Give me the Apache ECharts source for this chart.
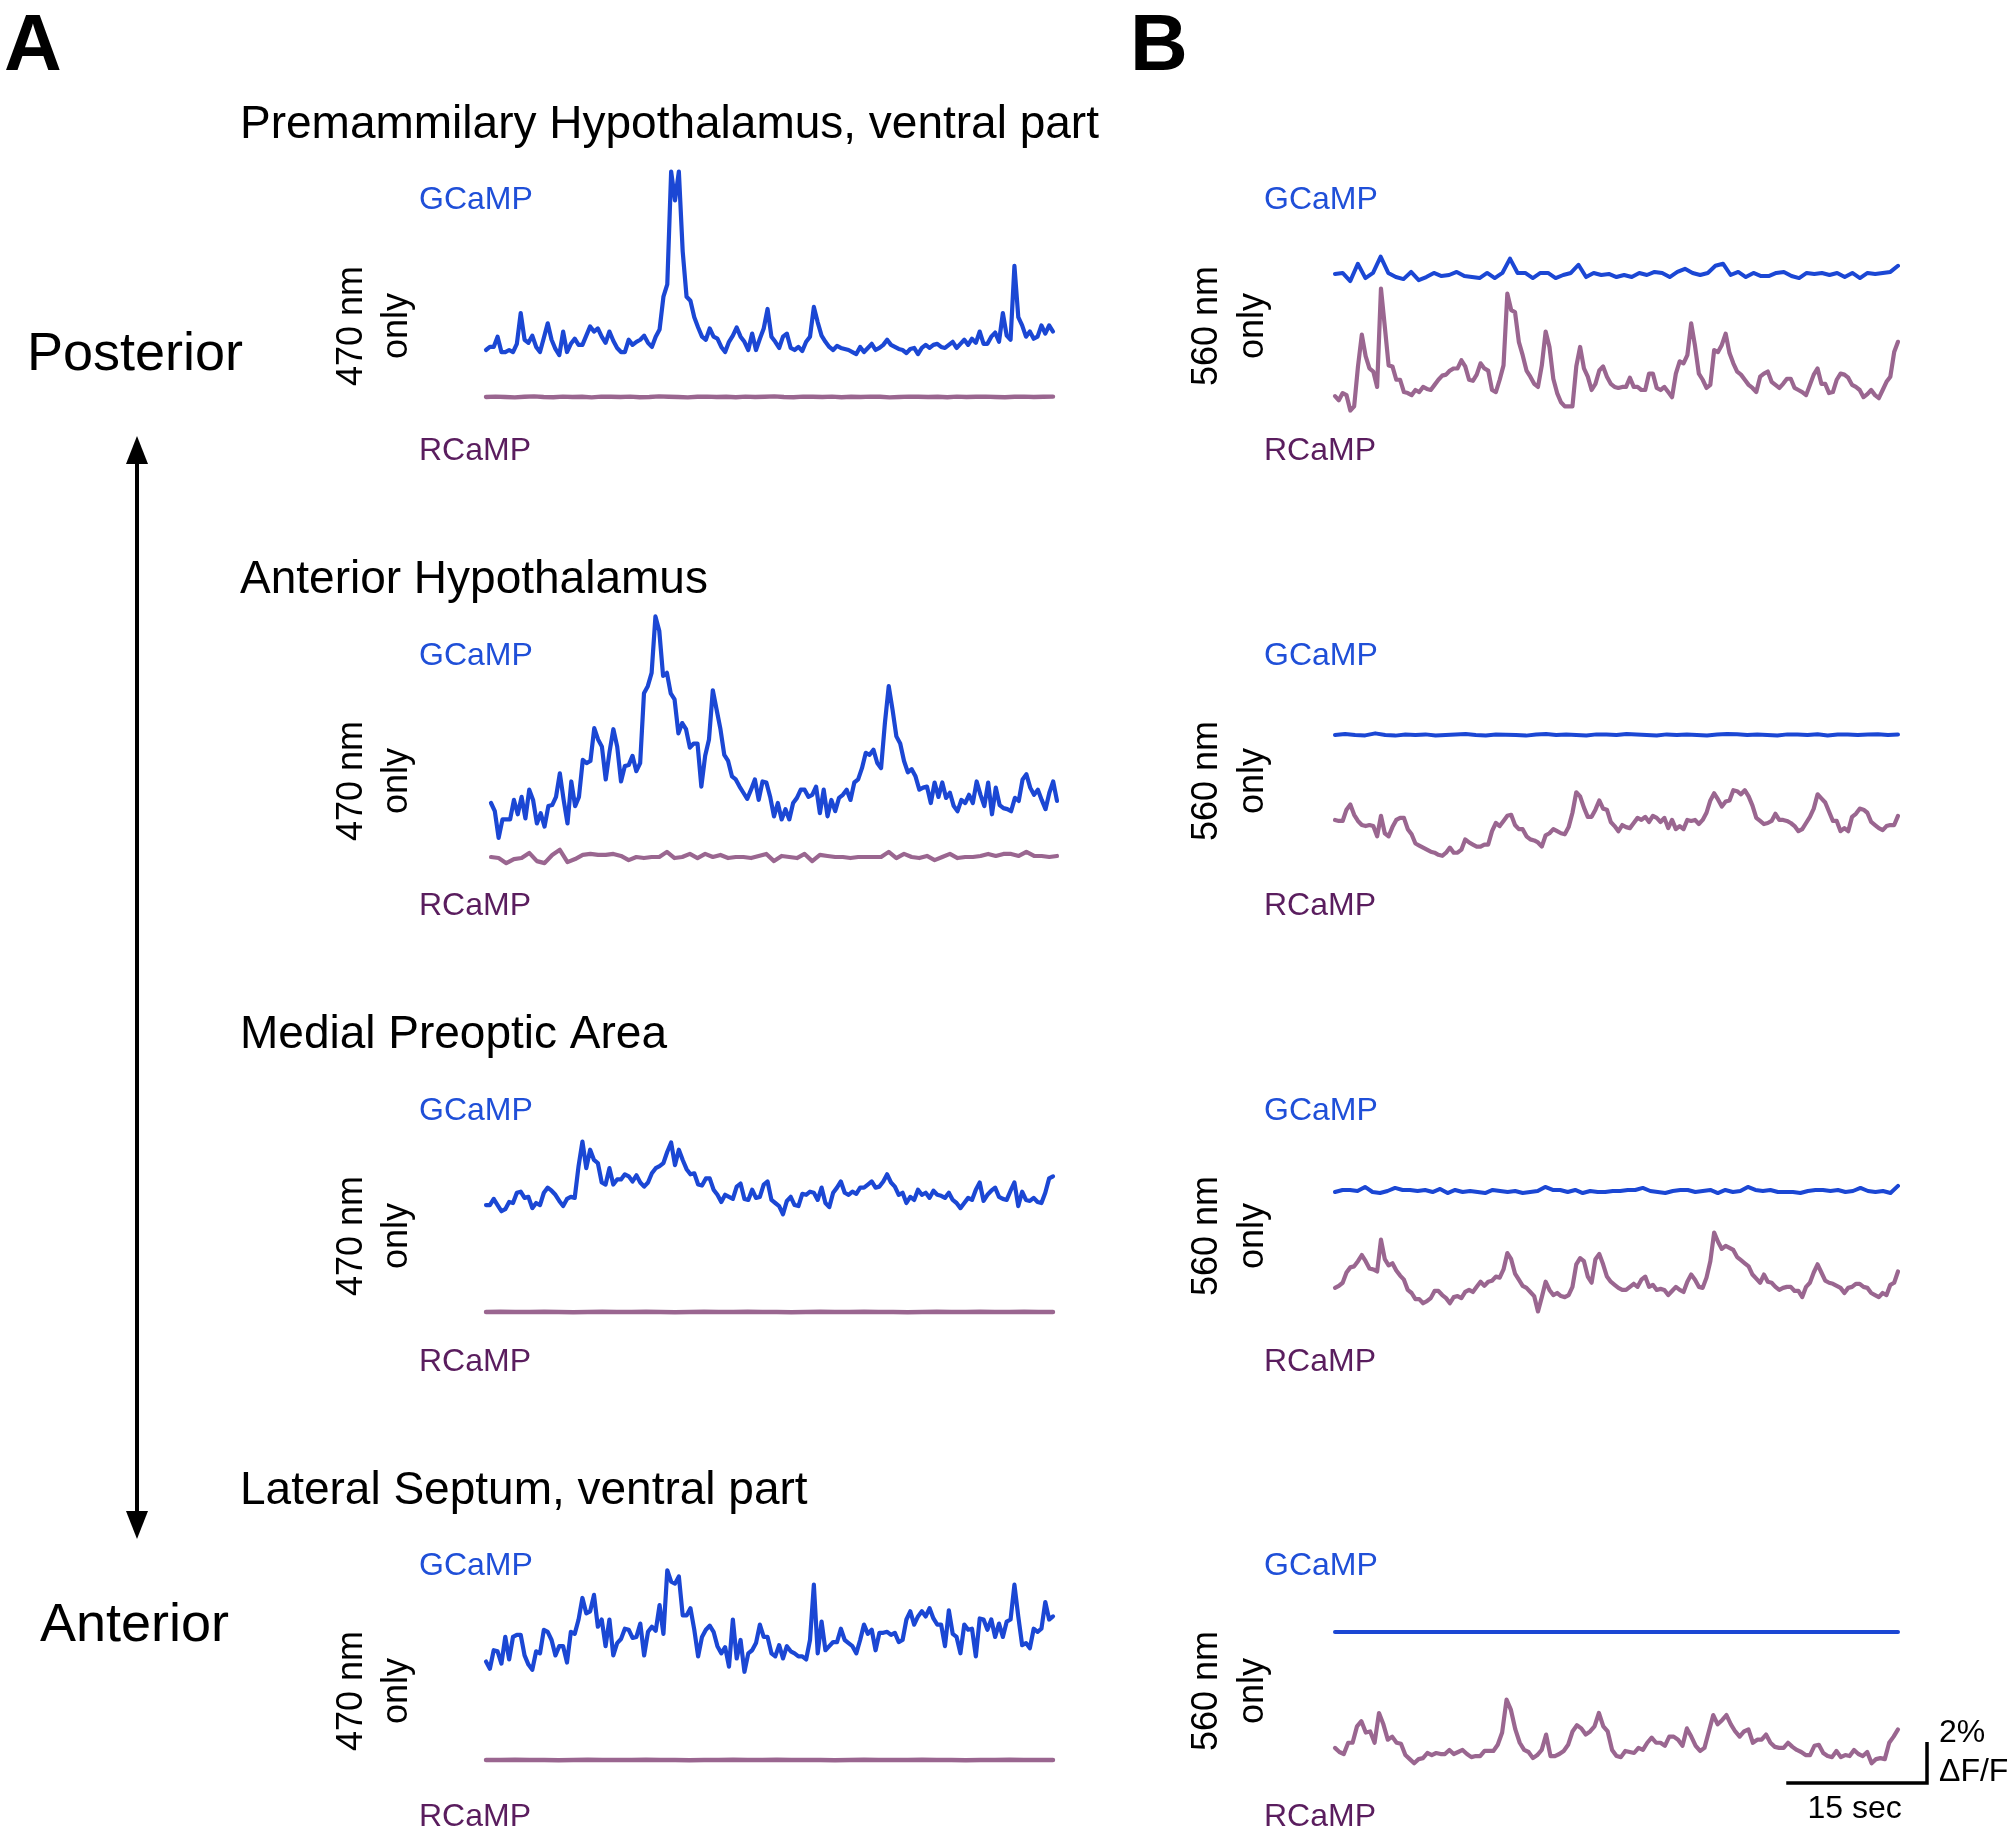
<!DOCTYPE html>
<html>
<head>
<meta charset="utf-8">
<script src="https://cdn.jsdelivr.net/npm/echarts@6/dist/echarts.min.js"></script>
<style>
  html, body { margin: 0; padding: 0; background: #fff; }
  #chart { width: 2013px; height: 1831px; }
</style>
</head>
<body>
<div id="chart"></div>
<script>
// region names, one row each (posterior -> anterior)
const regions = [
  "Premammilary Hypothalamus, ventral part",
  "Anterior Hypothalamus",
  "Medial Preoptic Area",
  "Lateral Septum, ventral part",
];

// ΔF/F (%) traces. column A = 470 nm only, column B = 560 nm only
const pmvGcampA = [0.0,0.15,0.15,0.65,-0.1,-0.1,0.0,-0.1,0.3,1.8,0.5,0.35,0.7,0.15,-0.1,0.6,1.3,0.5,0.05,-0.25,0.9,-0.1,0.3,0.55,0.25,0.25,0.7,1.15,0.9,1.05,0.65,0.35,0.9,0.45,0.1,-0.1,-0.1,0.5,0.25,0.4,0.5,0.7,0.35,0.15,0.65,1.0,2.6,3.2,8.7,7.3,8.7,4.8,2.6,2.4,1.6,1.1,0.65,0.5,1.05,0.65,0.55,0.15,-0.1,0.4,0.7,1.1,0.65,0.4,0.0,0.8,0.0,0.55,1.05,2.0,0.65,0.4,0.1,0.65,0.8,0.1,0.0,0.15,-0.05,0.4,0.65,2.1,1.35,0.7,0.4,0.15,0.0,0.2,0.1,0.05,0.0,-0.1,-0.2,0.15,-0.1,0.1,0.3,0.0,0.1,0.25,0.5,0.25,0.15,0.05,0.0,-0.15,0.05,0.1,-0.2,0.1,0.25,0.1,0.25,0.3,0.15,0.1,0.25,0.4,0.1,0.3,0.5,0.25,0.55,0.35,0.9,0.3,0.3,0.65,0.85,0.4,1.8,0.7,0.5,4.1,1.6,1.2,0.65,0.9,0.55,0.65,1.2,0.8,1.2,0.9];
const pmvRcampA = [0,0.02,0,-0.02,0.01,0.03,0,-0.01,0.02,0,0.01,-0.02,0.02,0.01,0,0.02,-0.01,0,0.03,0.01,0,-0.02,0.01,0.02,0,0.01,-0.01,0.02,0,0.01,0.03,0,-0.01,0.02,0.01,0,0.02,-0.01,0.01,0,0.02,0.01,-0.02,0,0.02,0.01,0,0.01,-0.01,0.02,0,0.01,0.02,0,-0.01,0.01,0.02,0,0.01,0.02];
const ahGcampA = [0.0,-0.4,-1.7,-0.8,-0.8,-0.8,0.15,-0.55,0.3,-0.75,0.65,0.15,-1.0,-0.5,-1.15,-0.15,-0.1,0.3,1.45,0.15,-1.0,1.05,-0.15,0.3,2.1,1.95,2.05,3.65,3.1,2.75,1.15,2.5,3.6,2.75,1.05,1.8,1.85,2.3,1.55,1.95,5.35,5.7,6.35,9.1,8.4,6.2,6.35,5.35,5.05,3.4,3.9,3.6,2.7,2.9,2.9,0.8,2.3,3.1,5.5,4.55,3.6,2.35,2.05,1.3,1.15,0.8,0.5,0.2,0.65,1.15,0.15,1.05,1.0,0.3,-0.65,0.0,-0.8,-0.3,-0.8,0.0,0.25,0.65,0.65,0.3,0.4,0.8,-0.5,0.65,-0.65,0.15,-0.4,0.25,0.4,0.65,0.15,1.0,1.15,1.7,2.45,2.35,2.6,1.95,1.7,3.9,5.7,4.55,3.25,2.9,2.05,1.5,1.65,1.3,0.65,0.75,0.8,0.0,1.0,0.3,1.0,0.25,0.5,-0.15,-0.4,0.15,0.0,0.4,0.0,1.05,0.4,-0.15,1.0,-0.55,0.75,-0.1,-0.25,-0.3,-0.4,0.25,0.1,1.15,1.4,0.75,0.4,0.65,0.15,-0.3,0.5,1.05,0.1];
const ahRcampA = [0.0,-0.05,-0.3,-0.1,-0.05,0.2,-0.2,-0.3,0.1,0.35,-0.25,-0.1,0.1,0.15,0.1,0.1,0.15,0.05,-0.15,0.0,-0.05,0.0,0.0,0.25,-0.05,0.0,0.15,-0.05,0.15,0.0,0.1,-0.05,0.0,0.0,-0.05,0.05,0.15,-0.2,0.05,0.0,-0.05,0.15,-0.2,0.1,0.05,0.0,0.0,-0.05,0.0,0.0,0.0,0.0,0.25,-0.05,0.15,0.0,-0.05,0.05,-0.15,0.0,0.15,-0.05,0.0,0.0,0.05,0.15,0.05,0.15,0.15,0.05,0.25,0.05,0.05,0.0,0.05];
const mpoaGcampA = [-0.1,-0.1,0.2,-0.1,-0.4,-0.3,0.05,0.0,0.5,0.55,0.25,0.3,-0.25,0.0,-0.1,0.5,0.75,0.6,0.4,0.1,-0.15,0.2,0.3,0.25,1.8,3.0,1.7,2.6,2.1,1.95,1.0,0.9,1.7,0.9,1.15,1.15,1.4,1.3,1.05,1.35,1.0,0.8,1.0,1.45,1.7,1.8,1.95,2.5,2.95,1.85,2.6,2.1,1.65,1.4,1.45,0.9,0.85,1.2,1.2,0.65,0.4,0.05,0.4,0.3,0.2,0.8,0.95,0.2,0.15,0.65,0.25,0.3,0.9,1.05,0.15,0.0,-0.15,-0.55,0.1,0.3,-0.1,-0.15,0.45,0.4,0.55,0.5,0.15,0.75,0.0,-0.2,0.5,0.75,1.05,0.5,0.4,0.55,0.45,0.75,0.75,0.9,1.05,0.75,0.8,1.05,1.4,1.0,0.8,0.4,0.5,0.0,0.3,0.15,0.65,0.4,0.5,0.25,0.6,0.4,0.35,0.25,0.5,0.15,0.0,-0.25,0.0,0.25,0.15,0.65,1.0,0.1,0.4,0.6,0.75,0.3,0.2,0.15,0.6,1.0,-0.15,0.55,0.15,0.1,0.25,0.05,0.0,0.5,1.2,1.3];
const mpoaRcampA = [0,0.01,0,0,0.01,0,-0.01,0,0.01,0,0,0.01,0,-0.01,0,0.01,0,0,0.01,0,0,-0.01,0,0.01,0,0,0.01,0,0,-0.01,0,0.01,0,0,0.01,0,0,0.01,0,0];
const lsvGcampA = [-1.05,-1.4,-0.5,-0.55,-1.15,0.15,-0.95,0.15,0.25,0.25,-0.75,-1.2,-1.45,-0.55,-0.65,0.5,0.4,0.0,-0.75,-0.3,-0.3,-1.1,0.4,0.3,1.0,2.05,1.3,1.4,2.2,0.65,1.0,-0.3,1.0,-0.75,-0.15,0.05,0.55,0.5,0.1,0.15,0.8,-0.75,0.4,0.65,0.45,1.7,0.3,3.4,2.85,2.75,3.1,1.2,1.2,1.55,0.5,-0.8,0.15,0.5,0.7,0.4,-0.3,-0.65,-0.35,-1.3,1.0,-0.9,0.0,-1.55,-0.65,-0.5,-0.15,0.75,0.15,0.15,-0.65,-0.8,-0.25,-0.9,-0.3,-0.55,-0.65,-0.8,-0.8,-0.95,0.0,2.7,-0.65,0.9,-0.5,-0.3,-0.1,-0.1,0.55,0.0,-0.15,-0.3,-0.65,0.0,0.75,0.3,0.5,-0.5,0.35,0.35,0.4,0.25,0.35,-0.1,0.0,1.0,1.4,0.75,1.15,1.4,1.15,1.55,1.05,0.75,0.75,-0.3,1.45,0.3,0.15,-0.65,0.75,0.5,0.55,-0.8,1.05,1.0,0.5,1.0,0.15,0.8,0.15,0.9,1.0,2.7,1.15,-0.25,-0.15,-0.4,0.55,0.4,0.55,1.85,1.0,1.15];
const lsvRcampA = [0,0,0.01,0,0,-0.01,0,0.01,0,0,0,0.01,0,0,-0.01,0,0,0.01,0,0,0.01,0,0,0,-0.01,0,0.01,0,0,0,0.01,0,0,-0.01,0,0,0.01,0,0,0];

const pmvGcampB = [0.05,0.1,-0.3,0.55,-0.15,0.1,0.9,0.1,-0.1,-0.2,0.15,-0.25,-0.1,0.1,-0.05,0.0,0.15,-0.05,-0.1,-0.15,0.1,-0.15,0.1,0.8,0.1,0.1,-0.15,0.1,0.1,-0.15,0.0,0.1,0.5,-0.1,0.1,0.0,0.05,-0.1,0.0,-0.1,0.1,0.0,0.15,0.1,-0.1,0.15,0.3,0.1,0.0,0.1,0.45,0.55,0.0,0.15,-0.1,0.1,-0.05,-0.05,0.1,0.15,-0.05,-0.15,0.1,0.05,0.1,0.0,0.1,-0.1,0.1,-0.15,0.1,0.05,0.1,0.15,0.45];
const pmvRcampB = [-0.3,-0.5,-0.15,-0.25,-1.0,-0.8,1.15,2.7,1.65,1.05,0.9,0.15,4.95,3.1,1.2,1.15,0.5,0.5,-0.1,-0.15,-0.25,0.0,-0.1,0.15,0.05,0.0,0.25,0.5,0.7,0.75,0.95,1.05,1.05,1.45,1.15,0.5,0.45,0.75,1.3,1.05,0.95,0.0,-0.1,0.5,1.2,4.7,3.9,3.8,2.35,1.7,0.95,0.65,0.3,0.15,1.2,2.85,2.1,0.55,-0.15,-0.6,-0.8,-0.8,-0.8,1.15,2.1,1.05,0.65,0.0,0.3,0.95,1.15,0.65,0.3,0.15,0.1,0.15,0.15,0.6,0.15,0.15,0.0,0.0,0.8,0.8,0.1,0.0,0.15,-0.1,-0.35,0.8,1.4,1.3,1.7,3.25,2.15,0.8,0.5,0.1,0.25,1.95,1.85,2.2,2.75,1.8,1.3,0.9,0.75,0.5,0.25,0.1,-0.1,0.65,0.8,0.9,0.4,0.25,0.1,0.3,0.55,0.55,0.1,0.0,-0.1,-0.25,0.25,0.75,1.05,0.3,0.3,-0.15,-0.1,0.5,0.8,0.75,0.6,0.25,0.15,0.0,-0.35,-0.2,0.0,-0.25,-0.4,0.0,0.4,0.65,1.85,2.35];
const ahGcampB = [0,0.05,0,-0.02,0.08,0,-0.03,0.02,0,0.03,-0.02,0,0.02,0.05,0,-0.02,0.02,0.01,0,-0.03,0.02,0.05,0,0.02,0,-0.02,0.03,0.02,0,0.05,0.02,0,-0.02,0.03,0,0.02,0,-0.02,0.02,0.05,0.04,0,0.02,0,-0.02,0.03,0.02,0,0.04,-0.02,0.02,0.03,0,0.02,0.04,0,0.02];
const ahRcampB = [0.15,0.1,0.1,0.65,0.9,0.4,0.1,-0.1,-0.15,-0.1,-0.15,-0.65,0.35,-0.5,-0.65,-0.2,0.15,0.25,0.25,-0.3,-0.55,-1.0,-1.1,-1.2,-1.3,-1.4,-1.45,-1.55,-1.6,-1.45,-1.2,-1.45,-1.45,-1.3,-0.8,-0.95,-1.05,-1.15,-1.15,-1.05,-1.05,-0.4,0.0,-0.15,0.1,0.35,0.4,-0.1,-0.3,-0.3,-0.65,-0.8,-0.85,-0.95,-1.15,-0.6,-0.5,-0.3,-0.4,-0.5,-0.55,-0.2,0.5,1.5,1.3,0.75,0.3,0.3,0.65,1.1,0.7,0.65,0.05,-0.15,-0.4,-0.1,-0.2,-0.25,0.0,0.25,0.15,0.3,0.05,0.35,0.25,0.05,0.25,-0.25,0.15,-0.3,-0.15,-0.3,0.15,0.1,0.15,-0.05,0.15,0.5,1.1,1.45,1.15,0.8,1.05,1.1,1.6,1.55,1.4,1.6,1.3,0.85,0.25,0.1,-0.05,0.0,0.1,0.45,0.15,0.15,0.1,0.0,-0.15,-0.4,-0.3,0.0,0.3,0.7,1.4,1.2,1.0,0.55,0.1,0.1,-0.4,-0.25,-0.4,0.3,0.45,0.7,0.65,0.5,0.05,-0.1,-0.25,-0.35,-0.15,-0.1,-0.1,0.35];
const mpoaGcampB = [-0.05,0.05,0.05,0.0,0.2,-0.05,-0.1,0.0,0.15,0.05,0.05,0.0,0.05,-0.05,0.1,-0.1,0.05,-0.05,0.0,-0.05,-0.1,0.05,0.0,-0.05,0.0,-0.1,-0.05,0.0,0.2,0.05,0.05,-0.05,0.05,-0.1,0.0,-0.05,-0.05,0.0,0.0,0.05,0.05,0.15,0.0,-0.05,-0.1,0.0,0.05,0.05,-0.05,0.0,0.05,-0.1,0.05,-0.05,0.0,0.2,0.05,0.0,0.05,-0.05,-0.05,-0.05,-0.1,0.0,0.05,0.05,0.0,0.05,-0.05,0.0,0.15,0.0,-0.05,0.0,-0.1,0.25];
const mpoaRcampB = [0.25,0.35,0.5,1.0,1.25,1.3,1.55,1.85,1.55,1.2,1.15,1.05,2.6,1.65,1.35,1.45,1.1,0.85,0.65,0.15,0.0,-0.3,-0.3,-0.5,-0.4,-0.25,0.1,0.1,-0.1,-0.25,-0.5,-0.2,-0.15,-0.25,0.05,0.15,0.05,0.3,0.55,0.35,0.55,0.6,0.8,0.75,1.15,1.95,1.65,0.95,0.65,0.35,0.25,0.05,-0.15,-0.9,-0.2,0.55,0.15,-0.1,0.0,-0.15,-0.2,-0.1,0.3,1.4,1.7,1.55,0.8,0.5,1.65,1.9,1.4,0.8,0.55,0.4,0.25,0.15,0.15,0.3,0.45,0.3,0.65,0.8,0.3,0.4,0.15,0.2,0.15,-0.1,0.1,0.3,0.15,0.05,0.55,0.9,0.65,0.3,0.25,0.75,1.55,2.95,2.5,2.15,2.3,2.2,2.1,1.75,1.6,1.45,1.3,0.9,0.7,0.5,0.9,0.55,0.5,0.3,0.15,0.25,0.3,0.3,0.1,0.1,-0.2,0.3,0.5,1.0,1.4,1.0,0.6,0.5,0.45,0.35,0.25,0.0,0.25,0.3,0.45,0.45,0.3,0.25,0.0,-0.1,-0.2,0.0,-0.1,0.4,0.5,1.05];
const lsvGcampB = [0,0,0,0,0,0,0,0,0,0,0,0,0,0,0,0,0,0,0,0];
const lsvRcampB = [0.25,0.05,-0.05,0.5,0.5,1.3,1.55,1.0,1.05,0.5,1.95,1.4,0.65,0.8,0.5,0.45,-0.1,-0.3,-0.5,-0.3,-0.25,0.0,-0.1,0.0,-0.05,-0.05,0.15,-0.05,0.05,0.15,-0.05,-0.2,-0.15,-0.15,0.1,0.1,0.1,0.4,1.0,2.6,2.1,1.15,0.5,0.15,0.05,-0.25,-0.1,0.15,0.9,-0.15,-0.15,-0.05,0.1,0.4,1.05,1.35,1.2,0.9,1.05,1.3,1.95,1.3,1.05,0.15,-0.15,-0.2,0.1,0.05,0.0,0.25,0.15,0.5,0.75,0.5,0.5,0.35,0.8,0.8,0.65,0.35,1.2,0.8,0.35,0.1,0.25,1.05,1.85,1.4,1.6,1.85,1.4,1.05,0.8,1.05,1.15,0.5,0.65,0.65,0.9,0.5,0.3,0.25,0.25,0.5,0.3,0.15,0.05,-0.1,-0.1,0.35,0.4,0.0,-0.15,-0.2,0.1,-0.2,-0.1,-0.15,0.15,-0.05,-0.15,0.05,-0.5,-0.3,-0.25,-0.3,0.5,0.8,1.15];

// scale bar
const scaleSec = 15;
const scalePct = 2;
const traceSeconds = 60;

const BLUE = "#1b47d4";
const PURPLE = "#9a6690";
const LABEL_BLUE = "#1f4fd8";
const LABEL_PURPLE = "#5a1d5e";
const FONT = '"Liberation Sans", Arial, Helvetica, sans-serif';

const PX_PER_PCT = 20.5;
// small grid around each baseline; lines are not clipped so peaks can go past it
const HALF = 50;

const colA = { left: 486, width: 567 };
const colB = { left: 1335, width: 563 };

const traceLayout = [
  { data: pmvGcampA, col: colA, y0: 350, color: BLUE, w: 4.2 },
  { data: pmvRcampA, col: colA, y0: 397, color: PURPLE, w: 4.4 },
  { data: ahGcampA, col: { left: 491, width: 566 }, y0: 803, color: BLUE, w: 4.2 },
  { data: ahRcampA, col: { left: 491, width: 566 }, y0: 857, color: PURPLE, w: 4.2 },
  { data: mpoaGcampA, col: colA, y0: 1203, color: BLUE, w: 4.2 },
  { data: mpoaRcampA, col: colA, y0: 1312, color: PURPLE, w: 4.4 },
  { data: lsvGcampA, col: colA, y0: 1640, color: BLUE, w: 4.2 },
  { data: lsvRcampA, col: colA, y0: 1760, color: PURPLE, w: 4.4 },
  { data: pmvGcampB, col: colB, y0: 275, color: BLUE, w: 4 },
  { data: pmvRcampB, col: colB, y0: 390, color: PURPLE, w: 4.2 },
  { data: ahGcampB, col: colB, y0: 735, color: BLUE, w: 4 },
  { data: ahRcampB, col: colB, y0: 823, color: PURPLE, w: 4.2 },
  { data: mpoaGcampB, col: colB, y0: 1191, color: BLUE, w: 4 },
  { data: mpoaRcampB, col: colB, y0: 1293, color: PURPLE, w: 4.2 },
  { data: lsvGcampB, col: colB, y0: 1632, color: BLUE, w: 4 },
  { data: lsvRcampB, col: colB, y0: 1753, color: PURPLE, w: 4.2 },
];

const titleY = [125, 580, 1035, 1491];
const gcampY = [200, 656, 1111, 1566];
const rcampY = [451, 906, 1362, 1817];
const excY = [326, 781, 1236, 1691];

const grid = [];
const xAxis = [];
const yAxis = [];
const series = [];

traceLayout.forEach((t, i) => {
  grid.push({ left: t.col.left, width: t.col.width, top: t.y0 - HALF, height: HALF * 2 });
  xAxis.push({ type: "value", gridIndex: i, min: 0, max: t.data.length - 1, show: false });
  yAxis.push({
    type: "value",
    gridIndex: i,
    min: -HALF / PX_PER_PCT,
    max: HALF / PX_PER_PCT,
    show: false,
  });
  series.push({
    type: "line",
    xAxisIndex: i,
    yAxisIndex: i,
    data: t.data.map((v, k) => [k, v]),
    showSymbol: false,
    symbol: "none",
    silent: true,
    clip: false,
    lineStyle: { color: t.color, width: t.w, join: "round", cap: "round" },
  });
});

const text = (str, x, y, size, opts = {}) => ({
  type: "text",
  x,
  y,
  rotation: opts.rotation || 0,
  silent: true,
  style: {
    text: str,
    font: `${opts.weight || "normal"} ${size}px ${FONT}`,
    fill: opts.color || "#000",
    textAlign: opts.align || "left",
    textVerticalAlign: "middle",
  },
});

const graphics = [
  text("A", 4, 48, 80, { weight: "bold" }),
  text("B", 1130, 48, 80, { weight: "bold" }),
  text("Posterior", 27, 355, 54),
  text("Anterior", 40, 1626, 54),
];

regions.forEach((name, r) => {
  graphics.push(text(name, 240, titleY[r], 46));
  [419, 1264].forEach((lx) => {
    graphics.push(text("GCaMP", lx, gcampY[r], 32, { color: LABEL_BLUE }));
    graphics.push(text("RCaMP", lx, rcampY[r], 32, { color: LABEL_PURPLE }));
  });
  graphics.push(text("470 nm", 352, excY[r], 36, { rotation: Math.PI / 2, align: "center" }));
  graphics.push(text("only", 397, excY[r], 36, { rotation: Math.PI / 2, align: "center" }));
  graphics.push(text("560 nm", 1207, excY[r], 36, { rotation: Math.PI / 2, align: "center" }));
  graphics.push(text("only", 1253, excY[r], 36, { rotation: Math.PI / 2, align: "center" }));
});

// posterior-anterior arrow
const arrowX = 137;
graphics.push(
  { type: "line", silent: true, shape: { x1: arrowX, y1: 455, x2: arrowX, y2: 1520 }, style: { stroke: "#000", lineWidth: 4 } },
  { type: "polygon", silent: true, shape: { points: [[arrowX, 436], [arrowX - 11, 464], [arrowX + 11, 464]] }, style: { fill: "#000" } },
  { type: "polygon", silent: true, shape: { points: [[arrowX, 1539], [arrowX - 11, 1511], [arrowX + 11, 1511]] }, style: { fill: "#000" } }
);

// scale bar, sized from the B column time axis and the ΔF/F pixel scale
const barRight = 1927;
const barBottom = 1783;
const barW = (scaleSec / traceSeconds) * colB.width;
const barH = scalePct * PX_PER_PCT;
graphics.push(
  { type: "polyline", silent: true, shape: { points: [[barRight - barW, barBottom], [barRight, barBottom], [barRight, barBottom - barH]] }, style: { stroke: "#000", lineWidth: 3.5, fill: null } },
  text(`${scaleSec} sec`, barRight - barW / 2 - 2, 1809, 32, { align: "center" }),
  text(`${scalePct}%`, 1939, 1733, 32),
  text("ΔF/F", 1939, 1772, 32)
);

const chart = echarts.init(document.getElementById("chart"));
chart.setOption({
  backgroundColor: "#fff",
  animation: false,
  grid,
  xAxis,
  yAxis,
  series,
  graphic: graphics,
});
</script>
</body>
</html>
